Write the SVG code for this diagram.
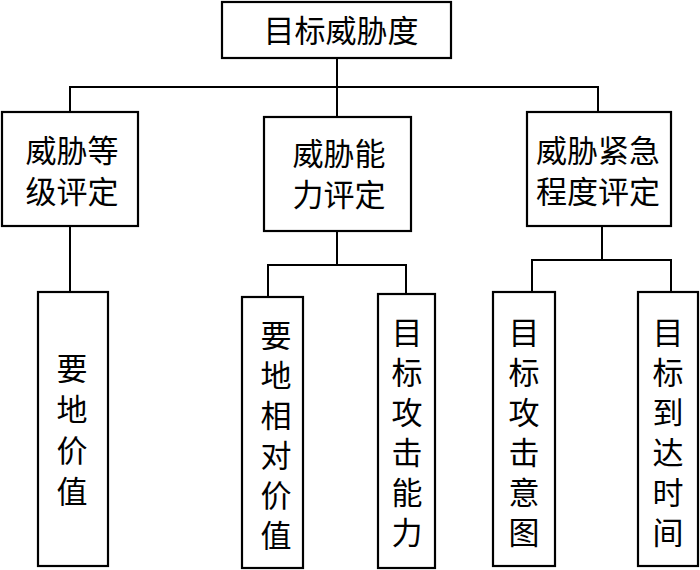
<svg xmlns="http://www.w3.org/2000/svg" width="700" height="570" viewBox="0 0 700 570">
<style>
.box{fill:#fff;stroke:#000;stroke-width:2.2}
.ln{fill:none;stroke:#000;stroke-width:2}
text{font-family:"Noto Sans CJK SC","Noto Sans CJK JP",sans-serif;font-size:31px;fill:#000;text-anchor:middle}
.v{writing-mode:vertical-rl;letter-spacing:9px}
</style>
<rect width="700" height="570" fill="#fff"/>
<g id="connectors">
<path class="ln" d="M337,58 V117 M70,112 V87 H598 V112"/>
<path class="ln" d="M70,226 V292"/>
<path class="ln" d="M337,231 V265 M268,297 V265 H406 V294"/>
<path class="ln" d="M602,226 V260 M532,292 V260 H671 V292"/>
</g>
<g id="n-root"><rect class="box" x="222" y="2" width="229" height="56"/><text x="341" y="42">目标威胁度</text></g>
<g id="n-level"><rect class="box" x="2" y="112" width="136" height="114"/><text x="72" y="162">威胁等</text><text x="72" y="203">级评定</text></g>
<g id="n-ability"><rect class="box" x="264" y="117" width="147" height="114"/><text x="339" y="165">威胁能</text><text x="339" y="206">力评定</text></g>
<g id="n-urgency"><rect class="box" x="527" y="112" width="144" height="114"/><text x="598" y="162">威胁紧急</text><text x="598" y="203">程度评定</text></g>
<g id="n-leaf1"><rect class="box" x="38" y="292" width="70" height="274"/><text class="v" x="72" y="434.5" style="letter-spacing:10px">要地价值</text></g>
<g id="n-leaf2"><rect class="box" x="242" y="297" width="61" height="271"/><text class="v" x="276" y="439.5">要地相对价值</text></g>
<g id="n-leaf3"><rect class="box" x="378" y="294" width="57" height="274"/><text class="v" x="407" y="436.5">目标攻击能力</text></g>
<g id="n-leaf4"><rect class="box" x="493" y="292" width="62" height="274"/><text class="v" x="524" y="436.5">目标攻击意图</text></g>
<g id="n-leaf5"><rect class="box" x="638" y="292" width="60" height="274"/><text class="v" x="668" y="436.5">目标到达时间</text></g>
</svg>
